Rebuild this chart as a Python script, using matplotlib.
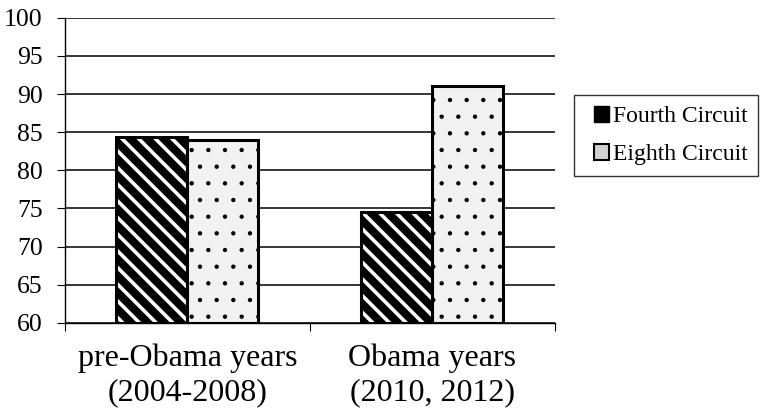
import matplotlib
matplotlib.use('Agg')
import matplotlib.pyplot as plt
from matplotlib.patches import Patch, Rectangle
from matplotlib.legend_handler import HandlerPatch
import numpy as np

categories = ['pre-Obama years\n(2004-2008)', 'Obama years\n(2010, 2012)']
fourth = [84.4, 74.5]
eighth = [84.0, 91.1]
series_names = ['Fourth Circuit', 'Eighth Circuit']
yticks = [60, 65, 70, 75, 80, 85, 90, 95, 100]

plt.rcParams['font.family'] = ['Liberation Serif', 'DejaVu Serif']
plt.rcParams['hatch.linewidth'] = 2.6

fig = plt.figure(figsize=(7.63, 4.15), dpi=100)
ax = fig.add_axes([0.085, 0.222, 0.642, 0.735])

x = np.arange(len(categories))
w = 0.29

# gridlines first, bars over them
ax.set_axisbelow(True)
ax.yaxis.grid(True, color='black', linewidth=1.1)

# Fourth circuit: black with white stripes
ax.bar(x - w / 2, np.array(fourth) - 60, w, bottom=60, color='black',
       edgecolor='white', hatch='\\\\', linewidth=0, zorder=2)
ax.bar(x - w / 2, np.array(fourth) - 60, w, bottom=60, fill=False,
       edgecolor='black', linewidth=2.2, zorder=3)

# Eighth circuit: light grey with black dots
plt.rcParams['hatch.linewidth'] = 0.7
ax.bar(x + w / 2, np.array(eighth) - 60, w, bottom=60, color='#f2f2f2',
       edgecolor='black', hatch='.', linewidth=0, zorder=2)
ax.bar(x + w / 2, np.array(eighth) - 60, w, bottom=60, fill=False,
       edgecolor='black', linewidth=2.2, zorder=3)

ax.set_ylim(60, 100)
ax.set_xlim(-0.5, 1.5)
ax.set_yticks(yticks)
ax.set_yticklabels([str(t) for t in yticks], fontsize=18.5)
ax.set_xticks([-0.5, 0.5, 1.5])
ax.set_xticklabels([])
ax.set_xticks(x, minor=True)
ax.set_xticklabels(categories, minor=True, fontsize=23, linespacing=1.25)
ax.tick_params(axis='x', which='minor', length=0, pad=15)
ax.tick_params(axis='x', which='major', length=6, direction='out', color='black')
ax.tick_params(axis='y', length=6, direction='out', pad=10)

for s in ['top', 'right']:
    ax.spines[s].set_visible(False)
ax.spines['left'].set_linewidth(1.0)
ax.spines['bottom'].set_linewidth(1.0)


# legend square sits at the right end of the handle slot
def right_square(legend, orig_handle, xdescent, ydescent, width, height, fontsize):
    return Rectangle((-xdescent + width - height, -ydescent), height, height)


handles = [Patch(facecolor='black', edgecolor='black'),
           Patch(facecolor='#d0d0d0', edgecolor='black', linewidth=1.5)]
leg = fig.legend(handles, series_names, loc='center left',
                 bbox_to_anchor=(0.752, 0.673), fontsize=17, frameon=True,
                 fancybox=False, edgecolor='black', handlelength=1.06,
                 handleheight=0.65, handletextpad=0.15, labelspacing=0.72,
                 borderpad=0.45, borderaxespad=0,
                 handler_map={Patch: HandlerPatch(patch_func=right_square)})
leg.get_frame().set_linewidth(1.0)

fig.savefig('out.png', dpi=100)
